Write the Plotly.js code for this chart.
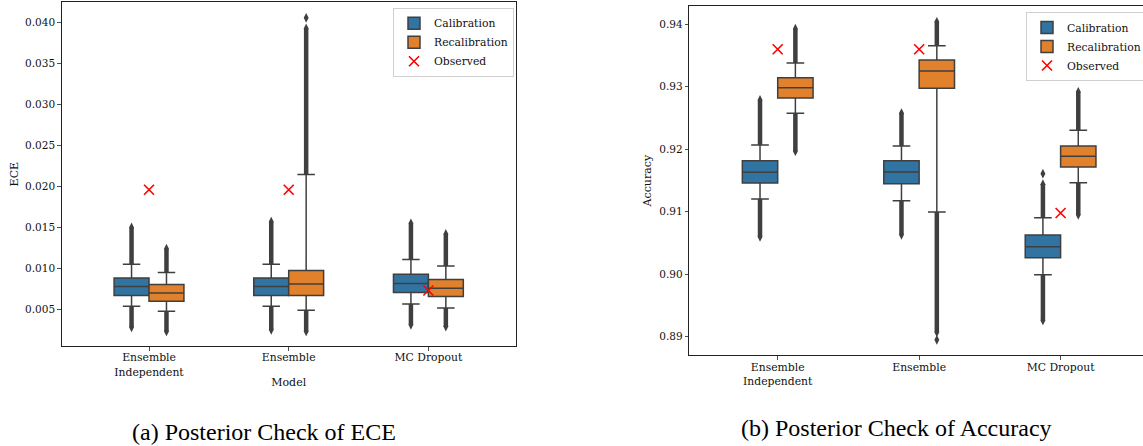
<!DOCTYPE html>
<html>
<head>
<meta charset="utf-8">
<script src="https://cdn.plot.ly/plotly-3.0.1.min.js"></script>
<style>
html, body { margin: 0; padding: 0; overflow: hidden; background: #fff; }
#chart { width: 1160px; height: 446px; }
</style>
</head>
<body>
<div id="chart"></div>
<script>
// ---------- data ----------
const categories = ['Ensemble<br>Independent', 'Ensemble', 'MC Dropout'];
const hues = ['Calibration', 'Recalibration'];

// ECE - Calibration
const eceCalQ1 = [0.00667, 0.00667, 0.00704];
const eceCalMed = [0.00777, 0.00777, 0.00814];
const eceCalQ3 = [0.00883, 0.00883, 0.00928];
const eceCalLo = [0.00536, 0.00536, 0.00565];
const eceCalHi = [0.01050, 0.01050, 0.01107];
const eceCalOutMin = [0.0028, 0.0025, 0.0031];
const eceCalOutMax = [0.0150, 0.0157, 0.0155];
const eceCalIsolated = [[], [], []];
// ECE - Recalibration
const eceRecQ1 = [0.00598, 0.00670, 0.00655];
const eceRecMed = [0.00699, 0.00809, 0.00757];
const eceRecQ3 = [0.00802, 0.00973, 0.00863];
const eceRecLo = [0.00475, 0.00488, 0.00516];
const eceRecHi = [0.00949, 0.02147, 0.01029];
const eceRecOutMin = [0.0023, 0.0023, 0.0029];
const eceRecOutMax = [0.0124, 0.0393, 0.0142];
const eceRecIsolated = [[], [0.0406], []];
// ECE - Observed
const eceObserved = [0.0196, 0.0196, 0.0073];

// Accuracy - Calibration
const accCalQ1 = [0.91460, 0.91449, 0.90265];
const accCalMed = [0.91631, 0.91636, 0.90441];
const accCalQ3 = [0.91817, 0.91817, 0.90628];
const accCalLo = [0.91204, 0.91177, 0.89993];
const accCalHi = [0.92068, 0.92052, 0.90905];
const accCalOutMin = [0.9060, 0.9063, 0.8926];
const accCalOutMax = [0.9279, 0.9258, 0.9144];
const accCalIsolated = [[], [], [0.9161]];
// Accuracy - Recalibration
const accRecQ1 = [0.92820, 0.92976, 0.91716];
const accRecMed = [0.92985, 0.93253, 0.91887];
const accRecQ3 = [0.93145, 0.93429, 0.92052];
const accRecLo = [0.92575, 0.90996, 0.91465];
const accRecHi = [0.93381, 0.93658, 0.92303];
const accRecOutMin = [0.9197, 0.8907, 0.9095];
const accRecOutMax = [0.9393, 0.9404, 0.9292];
const accRecIsolated = [[], [0.8895], []];
// Accuracy - Observed
const accObserved = [0.9360, 0.9360, 0.9098];

// ---------- styling ----------
const W = 1160, H = 446;
const BLUE = '#3274a1', ORANGE = '#e1812c', GREY = '#3f3f3f';
const FONT = 'DejaVu Serif, serif';
const HALF = 0.125, BOXW = 0.25;
const idx = categories.map((c, i) => i);

function boxTrace(name, color, off, q1, med, q3, lo, hi, xa, ya, legend, showlegend) {
  return {
    type: 'box', name: name, x: idx.map(i => i + off),
    q1: q1, median: med, q3: q3, lowerfence: lo, upperfence: hi,
    width: BOXW, whiskerwidth: 0.5, boxpoints: false,
    fillcolor: color, line: {color: GREY, width: 1.5},
    xaxis: xa, yaxis: ya, legend: legend, showlegend: showlegend, hoverinfo: 'skip'
  };
}
function outlierTraces(off, lo, hi, omin, omax, iso, xa, ya) {
  const lx = [], ly = [], mx = [], my = [];
  idx.forEach(i => {
    const p = i + off;
    lx.push(p, p, null, p, p, null);
    ly.push(lo[i], omin[i], null, hi[i], omax[i], null);
    mx.push(p, p); my.push(omin[i], omax[i]);
    iso[i].forEach(v => { mx.push(p); my.push(v); });
  });
  return [
    {type: 'scatter', mode: 'lines', x: lx, y: ly, line: {color: GREY, width: 4.5},
     xaxis: xa, yaxis: ya, showlegend: false, hoverinfo: 'skip'},
    {type: 'scatter', mode: 'markers', x: mx, y: my,
     marker: {symbol: 'diamond-tall', size: 7, color: GREY},
     xaxis: xa, yaxis: ya, showlegend: false, hoverinfo: 'skip'}
  ];
}
function obsTrace(vals, xa, ya, legend) {
  return {
    type: 'scatter', mode: 'markers', name: 'Observed', x: idx, y: vals,
    marker: {symbol: 'x-thin', size: 10, color: 'red', line: {color: 'red', width: 1.6}},
    xaxis: xa, yaxis: ya, legend: legend, hoverinfo: 'skip'
  };
}

const data = [].concat(
  outlierTraces(-HALF, eceCalLo, eceCalHi, eceCalOutMin, eceCalOutMax, eceCalIsolated, 'x', 'y'),
  outlierTraces(HALF, eceRecLo, eceRecHi, eceRecOutMin, eceRecOutMax, eceRecIsolated, 'x', 'y'),
  [boxTrace(hues[0], BLUE, -HALF, eceCalQ1, eceCalMed, eceCalQ3, eceCalLo, eceCalHi, 'x', 'y', 'legend', true),
   boxTrace(hues[1], ORANGE, HALF, eceRecQ1, eceRecMed, eceRecQ3, eceRecLo, eceRecHi, 'x', 'y', 'legend', true),
   obsTrace(eceObserved, 'x', 'y', 'legend')],
  outlierTraces(-HALF, accCalLo, accCalHi, accCalOutMin, accCalOutMax, accCalIsolated, 'x2', 'y2'),
  outlierTraces(HALF, accRecLo, accRecHi, accRecOutMin, accRecOutMax, accRecIsolated, 'x2', 'y2'),
  [boxTrace(hues[0], BLUE, -HALF, accCalQ1, accCalMed, accCalQ3, accCalLo, accCalHi, 'x2', 'y2', 'legend2', true),
   boxTrace(hues[1], ORANGE, HALF, accRecQ1, accRecMed, accRecQ3, accRecLo, accRecHi, 'x2', 'y2', 'legend2', true),
   obsTrace(accObserved, 'x2', 'y2', 'legend2')]
);

const tickFont = {family: FONT, size: 10.5, color: '#111'};
const xBase = {
  range: [-0.625, 2.625], tickmode: 'array', tickvals: idx, ticktext: categories,
  showline: true, mirror: true, linecolor: '#222', linewidth: 1,
  ticks: 'outside', ticklen: 3.5, tickwidth: 0.8, tickcolor: '#222', ticklabelstandoff: -2,
  showgrid: false, zeroline: false, tickfont: {family: FONT, size: 10.8, color: '#111'},
  fixedrange: true
};
const yBase = {
  showline: true, mirror: true, linecolor: '#222', linewidth: 1,
  ticks: 'outside', ticklen: 3.5, tickwidth: 0.8, tickcolor: '#222',
  showgrid: false, zeroline: false, tickfont: tickFont, fixedrange: true
};
const legendBase = {
  bgcolor: 'rgba(255,255,255,0.8)', bordercolor: '#d0d0d0', borderwidth: 1,
  font: {family: FONT, size: 10.8, color: '#111'},
  xanchor: 'left', yanchor: 'top', tracegroupgap: 0
};

const layout = {
  width: W, height: H,
  margin: {l: 0, r: 0, t: 0, b: 0},
  paper_bgcolor: '#fff', plot_bgcolor: '#fff',
  showlegend: true,
  xaxis: Object.assign({}, xBase, {
    domain: [61.7 / W, 515.7 / W], anchor: 'y',
    title: {text: 'Model', font: {family: FONT, size: 11, color: '#111'}, standoff: 0}
  }),
  yaxis: Object.assign({}, yBase, {
    domain: [1 - 346 / H, 1 - 2.3 / H], anchor: 'x',
    range: [0.000518, 0.042491], tick0: 0.005, dtick: 0.005, tickformat: '.3f',
    title: {text: 'ECE', font: {family: FONT, size: 11, color: '#111'}, standoff: 4}
  }),
  xaxis2: Object.assign({}, xBase, {
    domain: [689.3 / W, 1149 / W], anchor: 'y2'
  }),
  yaxis2: Object.assign({}, yBase, {
    domain: [1 - 355.3 / H, 1 - 6 / H], anchor: 'x2',
    range: [0.887023, 0.94293], tick0: 0.89, dtick: 0.01, tickformat: '.2f',
    title: {text: 'Accuracy', font: {family: FONT, size: 11, color: '#111'}, standoff: 5}
  }),
  legend: Object.assign({}, legendBase, {x: 393 / W, y: 1 - 7.7 / H}),
  legend2: Object.assign({}, legendBase, {x: 1026 / W, y: 1 - 12 / H}),
  annotations: [
    {text: '(a) Posterior Check of ECE', xref: 'paper', yref: 'paper',
     x: 263.5 / W, y: 1 - 432 / H, xanchor: 'center', yanchor: 'middle', showarrow: false,
     font: {family: 'Liberation Serif, Times New Roman, serif', size: 24, color: '#000'}},
    {text: '(b) Posterior Check of Accuracy', xref: 'paper', yref: 'paper',
     x: 896.5 / W, y: 1 - 428 / H, xanchor: 'center', yanchor: 'middle', showarrow: false,
     font: {family: 'Liberation Serif, Times New Roman, serif', size: 24, color: '#000'}}
  ]
};

Plotly.newPlot('chart', data, layout, {displayModeBar: false, staticPlot: true});
</script>
</body>
</html>
